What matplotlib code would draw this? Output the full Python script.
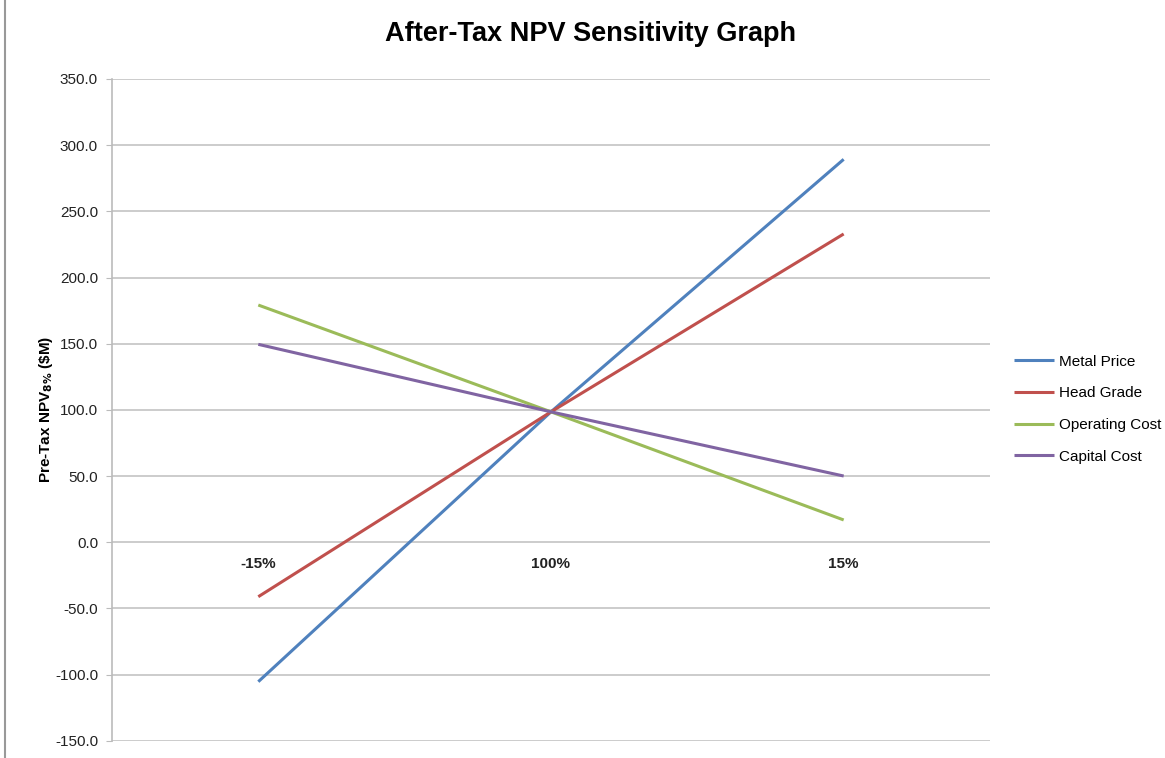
import matplotlib.pyplot as plt
from matplotlib.lines import Line2D

# sensitivity cases and after-tax NPV ($M)
cases = ['-15%', '100%', '15%']
metal_price = [-105.4, 98.5, 289.3]
head_grade = [-41.2, 98.5, 232.9]
operating_cost = [179.2, 98.5, 16.8]
capital_cost = [149.5, 98.5, 50.0]

series = [
  ('Metal Price', metal_price, '#4F81BD'),
  ('Head Grade', head_grade, '#C0504D'),
  ('Operating Cost', operating_cost, '#9BBB59'),
  ('Capital Cost', capital_cost, '#8064A2'),
]

plt.rcParams['font.family'] = ['Liberation Sans', 'DejaVu Sans']

fig = plt.figure(figsize=(11.65, 7.58), dpi=100)
ax = fig.add_axes([0.0961, 0.0228, 0.7537, 0.873])

x = list(range(len(cases)))
for name, vals, col in series:
  ax.plot(x, vals, color=col, lw=2.2, label=name, solid_capstyle='butt')

ax.set_xlim(-0.5, 2.5)
ax.set_ylim(-150, 350)
ax.set_yticks(range(-150, 351, 50))
ax.set_yticklabels(['%.1f' % v for v in range(-150, 351, 50)], fontsize=11, color='#222222')
ax.yaxis.grid(True, color='#C4C4C4', lw=1.2)
ax.set_axisbelow(True)
ax.set_xticks([])
ax.tick_params(axis='y', length=4, color='#BBBBBB', pad=6)
for s in ['top', 'right', 'bottom']:
  ax.spines[s].set_visible(False)
ax.spines['left'].set_color('#BBBBBB')
ax.spines['left'].set_linewidth(1.2)

# category labels sit just under the zero line
for i, c in enumerate(cases):
  ax.annotate(c, xy=(i, 0), xytext=(0, -16), textcoords='offset points',
              ha='center', va='center', fontsize=11, fontweight='bold', color='#222222')

ax.set_ylabel(r'Pre-Tax NPV$_{\mathbf{8\%}}$ (\$M)', fontsize=11, fontweight='bold', labelpad=0)

fig.suptitle('After-Tax NPV Sensitivity Graph', x=0.507, y=0.972, fontsize=19.5, fontweight='bold')

ax.legend(loc='center left', bbox_to_anchor=(1.012, 0.501), frameon=False, fontsize=11,
          handlelength=2.6, handletextpad=0.3, labelspacing=1.15)

fig.add_artist(Line2D([5 / 1165, 5 / 1165], [0, 1], color='#999999', lw=1.5))

fig.savefig('out.png', dpi=100)
